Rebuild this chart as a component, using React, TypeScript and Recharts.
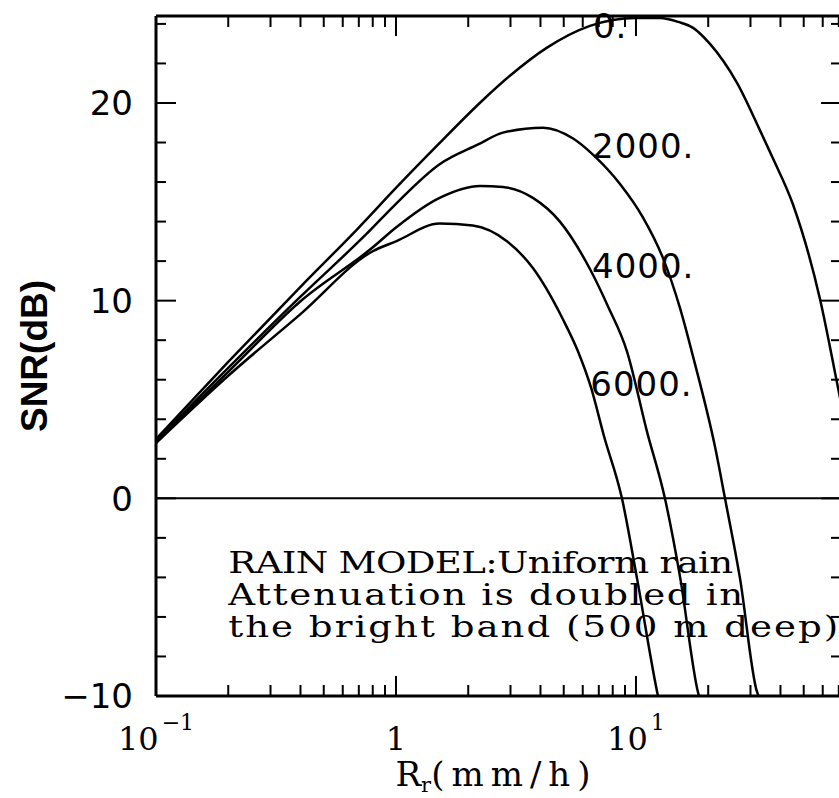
import React from 'react';
import { LineChart, Line, XAxis, YAxis, ReferenceLine, ReferenceDot, Label } from 'recharts';

// Rain rate R_r (mm/h) and SNR (dB) for each curve (label = height, m)
const rate0 = [0.1, 0.2, 0.4, 0.7, 1, 1.5, 2.28, 3, 4.26, 6.43, 8, 10, 12.6, 15, 17.3, 20.3, 26.4, 32.9, 37.2, 45, 58.4, 70, 71.5];
const snr0 = [3.0, 6.9, 10.7, 13.7, 15.7, 17.9, 20.1, 21.4, 22.8, 23.9, 24.2, 24.3, 24.3, 24.1, 23.8, 23.0, 21.0, 18.6, 17.2, 14.9, 10.1, 5.4, 4.85];

const rate2000 = [0.1, 0.2, 0.4, 0.757, 1, 1.52, 2.2, 2.79, 4.1, 5.47, 6.6, 8.58, 10.7, 12.96, 15.26, 17.36, 21.54, 23.49, 27.13, 31.9, 32.4];
const snr2000 = [2.9, 6.6, 10.2, 13.4, 14.9, 16.9, 17.9, 18.5, 18.75, 18.2, 17.4, 15.9, 14.2, 12.15, 9.62, 7.09, 2.38, 0, -4.05, -9.77, -10];

const rate4000 = [0.1, 0.2, 0.4, 0.794, 1, 1.52, 2.24, 2.79, 3.72, 4.82, 6.43, 7.64, 9.17, 11.1, 13.2, 15.3, 18.1, 18.3];
const snr4000 = [2.85, 6.4, 9.97, 12.66, 13.7, 15.2, 15.8, 15.75, 15.2, 14.0, 11.6, 9.72, 7.44, 3.4, 0, -4.05, -9.77, -10];

const rate6000 = [0.1, 0.2, 0.4, 0.8, 1.0, 1.52, 2.09, 2.9, 3.72, 4.96, 5.73, 6.49, 7.36, 8.74, 10.1, 12.24, 12.35];
const snr6000 = [2.8, 6.2, 9.32, 12.5, 13.0, 13.9, 13.8, 13.0, 11.65, 9.06, 7.44, 5.62, 3.14, 0, -4.05, -9.77, -10];

// Curve labels
const curveLabels = ['0.', '2000.', '4000.', '6000.'];
const curveLabelRate = [6.62, 6.56, 6.56, 6.45];
const curveLabelSnr = [23.3, 17.2, 11.14, 5.16];

// Axis ticks
const xMajor = [0.1, 1, 10];
const xMajorBase = ['10', '1', '10'];
const xMajorExp = ['\u22121', '', '1'];
const xMinor = [0.2, 0.3, 0.4, 0.5, 0.6, 0.7, 0.8, 0.9, 2, 3, 4, 5, 6, 7, 8, 9, 20, 30, 40, 50, 60, 70];
const yMajor = [-10, 0, 10, 20];
const yMajorLabels = ['\u221210', '0', '10', '20'];
const yMinor = [-8, -6, -4, -2, 2, 4, 6, 8, 12, 14, 16, 18, 22, 24];

const xDomain = [0.1, 71.5];
const yDomain = [-10, 24.4];

// Annotation
const noteLines = ['RAIN MODEL:Uniform rain', 'Attenuation is doubled in', 'the bright band (500 m deep)'];
const noteRate = 0.2;
const noteSnr = -3.8;

const toPoints = (rs: number[], ss: number[]) => rs.map((r, i) => ({ r, snr: ss[i] }));
const series = [
  toPoints(rate0, snr0),
  toPoints(rate2000, snr2000),
  toPoints(rate4000, snr4000),
  toPoints(rate6000, snr6000),
];

const yTicks = [...yMajor, ...yMinor].sort((a, b) => a - b);

// x tick marks drawn as short broken line segments (length in y units; plot is 680 px tall)
const unitsPerPx = (yDomain[1] - yDomain[0]) / 680;
const xTickMarks = [...xMajor.map((v) => ({ v, len: 20 })), ...xMinor.map((v) => ({ v, len: 11 }))];
const bottomTickData = xTickMarks.flatMap((t) => [
  { r: t.v, snr: yDomain[0] },
  { r: t.v, snr: yDomain[0] + t.len * unitsPerPx },
  { r: t.v, snr: null },
]);
const topTickData = xTickMarks.flatMap((t) => [
  { r: t.v, snr: yDomain[1] },
  { r: t.v, snr: yDomain[1] - t.len * unitsPerPx },
  { r: t.v, snr: null },
]);

const isMajor = (list: number[], v: number) => list.findIndex((m) => Math.abs(m - v) < 1e-9);

const BottomLabel = (props: any) => {
  const { x, y, payload } = props;
  const idx = isMajor(xMajor, payload.value);
  if (idx < 0) return <g />;
  return (
    <text x={x} y={y + 54} textAnchor="middle" fontFamily="DejaVu Serif" fontSize={32} fill="#000">
      <tspan>{xMajorBase[idx]}</tspan>
      {xMajorExp[idx] ? (
        <tspan dx={3} dy={-20} fontSize={22}>
          {xMajorExp[idx]}
        </tspan>
      ) : null}
    </text>
  );
};

const LeftTick = (props: any) => {
  const { x, y, payload } = props;
  const idx = isMajor(yMajor, payload.value);
  const major = idx >= 0;
  return (
    <g>
      <line x1={x} y1={y} x2={x + (major ? 20 : 10)} y2={y} stroke="#000" strokeWidth={2} />
      {major && (
        <text x={x - 23} y={y} dy="0.36em" textAnchor="end" fontFamily="DejaVu Sans" fontSize={34} fill="#000">
          {yMajorLabels[idx]}
        </text>
      )}
    </g>
  );
};

const RightTick = (props: any) => {
  const { x, y, payload } = props;
  const major = isMajor(yMajor, payload.value) >= 0;
  return <line x1={x} y1={y} x2={x - (major ? 20 : 10)} y2={y} stroke="#000" strokeWidth={2} />;
};

const XTitle = (props: any) => {
  const vb = props.viewBox || {};
  const sx = vb.x + vb.width / 2 - 103;
  return (
    <text x={sx} y={vb.y + 90} textAnchor="start" fontFamily="DejaVu Serif" fontSize={34} fill="#000">
      <tspan>R</tspan>
      <tspan dy={6} fontSize={21}>r</tspan>
      <tspan dy={-6} letterSpacing={7}>(mm/h)</tspan>
    </text>
  );
};

const YTitle = (props: any) => {
  const vb = props.viewBox || {};
  const cx = vb.x + 34;
  const cy = vb.y + vb.height / 2;
  return (
    <text
      x={cx}
      y={cy}
      transform={`rotate(-90 ${cx} ${cy})`}
      textAnchor="middle"
      dy="0.36em"
      fontFamily="Liberation Sans"
      fontWeight="bold"
      fontSize={37}
      fill="#000"
    >
      SNR(dB)
    </text>
  );
};

const noteWidths = [505, 515, 610];
const noteScaleX = 1.28;
const frame = { stroke: '#000', strokeWidth: 3 };

export default function App() {
  return (
    <div style={{ position: 'absolute', left: 0, top: 0, width: 839, height: 798, overflow: 'hidden', background: '#fff' }}>
      <LineChart width={850} height={798} margin={{ top: 15, right: 8, bottom: 101, left: 0 }}>
        <XAxis
          xAxisId={0}
          dataKey="r"
          type="number"
          scale="log"
          domain={xDomain}
          allowDataOverflow
          ticks={xMajor}
          interval={0}
          height={1}
          tickSize={0}
          tickMargin={0}
          tickLine={false}
          axisLine={frame}
          tick={<BottomLabel />}
          label={<Label content={<XTitle />} />}
        />
        <XAxis
          xAxisId="top"
          orientation="top"
          type="number"
          scale="log"
          domain={xDomain}
          allowDataOverflow
          ticks={xMajor}
          height={1}
          tickLine={false}
          axisLine={frame}
          tick={false}
        />
        <YAxis
          yAxisId={0}
          dataKey="snr"
          type="number"
          domain={yDomain}
          allowDataOverflow
          ticks={yTicks}
          interval={0}
          width={156}
          tickSize={0}
          tickMargin={0}
          tickLine={false}
          axisLine={frame}
          tick={<LeftTick />}
          label={<Label content={<YTitle />} />}
        />
        <YAxis
          yAxisId="right"
          orientation="right"
          type="number"
          domain={yDomain}
          allowDataOverflow
          ticks={yTicks}
          interval={0}
          width={1}
          tickSize={0}
          tickMargin={0}
          tickLine={false}
          axisLine={frame}
          tick={<RightTick />}
        />
        <ReferenceLine y={0} stroke="#000" strokeWidth={2} />
        <Line
          data={bottomTickData}
          dataKey="snr"
          type="linear"
          stroke="#000"
          strokeWidth={2}
          dot={false}
          activeDot={false}
          connectNulls={false}
          isAnimationActive={false}
        />
        <Line
          data={topTickData}
          dataKey="snr"
          type="linear"
          stroke="#000"
          strokeWidth={2}
          dot={false}
          activeDot={false}
          connectNulls={false}
          isAnimationActive={false}
        />
        {series.map((d, i) => (
          <Line
            key={i}
            data={d}
            dataKey="snr"
            type="monotone"
            stroke="#000"
            strokeWidth={2.5}
            dot={false}
            activeDot={false}
            isAnimationActive={false}
          />
        ))}
        {curveLabels.map((t, i) => (
          <ReferenceDot
            key={t}
            x={curveLabelRate[i]}
            y={curveLabelSnr[i]}
            r={1}
            shape={(p: any) => (
              <text x={p.cx} y={p.cy} fontFamily="DejaVu Sans" fontSize={34} fill="#000" letterSpacing={1}>
                {t}
              </text>
            )}
          />
        ))}
        <ReferenceDot
          x={noteRate}
          y={noteSnr}
          r={1}
          shape={(p: any) => (
            <g>
              {noteLines.map((line, i) => (
                <text
                  key={i}
                  transform={`translate(${p.cx} ${p.cy + i * 32}) scale(${noteScaleX} 1)`}
                  x={0}
                  y={0}
                  fontFamily="DejaVu Serif"
                  fontSize={29}
                  fill="#000"
                  textLength={noteWidths[i] / noteScaleX}
                  lengthAdjust="spacing"
                >
                  {line}
                </text>
              ))}
            </g>
          )}
        />
      </LineChart>
    </div>
  );
}
